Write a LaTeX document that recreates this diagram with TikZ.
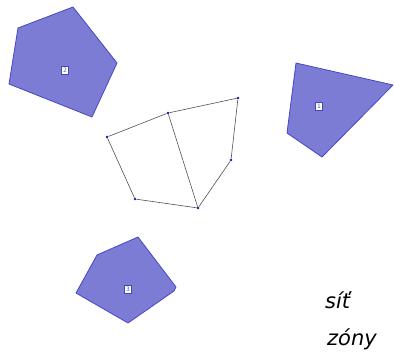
\documentclass[tikz,border=0pt]{standalone}
\usepackage{fontspec}
\newfontfamily\labfont{DejaVu Sans}
\definecolor{zonefill}{RGB}{124,124,212}
\definecolor{zoneline}{RGB}{70,70,200}
\definecolor{netline}{RGB}{80,80,80}
\definecolor{netdot}{RGB}{20,20,170}
\definecolor{numtext}{RGB}{90,90,160}
\begin{document}
\begin{tikzpicture}[x=1pt,y=-1pt,
  zone/.style={fill=zonefill,draw=zoneline,line width=0.8pt,line join=round},
  zonelabel/.style={draw=zoneline,fill=white,line width=0.7pt,inner sep=0pt,minimum width=7pt,minimum height=8pt,font=\labfont\fontsize{6}{6}\selectfont,text=numtext},
  vert/.style={circle,fill=netdot,inner sep=0pt,minimum size=2.6pt},
  edge/.style={draw=netline,line width=0.6pt},
  caption/.style={font=\labfont\itshape\fontsize{21}{24}\selectfont,anchor=base west,inner sep=0pt}]
\useasboundingbox (0,0) rectangle (394,357);
% zone 2
\draw[zone] (18,28) -- (73,7) -- (117,63) -- (92,117) -- (9,84) -- cycle;
\node[zonelabel] (z2) at (65,70) {2};
% zone 1
\draw[zone] (296,63) -- (393,85) -- (322,157) -- (287,133) -- cycle;
\node[zonelabel] (z1) at (319,106) {1};
% zone 3
\draw[zone] (97,255) -- (138,237) -- (176,287) -- (174,291) -- (128,323) -- (76,293) -- cycle;
\node[zonelabel] (z3) at (128,289) {3};
% network
\node[vert] (a) at (107,137) {};
\node[vert] (b) at (168,113) {};
\node[vert] (c) at (238,98) {};
\node[vert] (d) at (231,160) {};
\node[vert] (e) at (198,208) {};
\node[vert] (f) at (135,199) {};
\draw[edge] (a) -- (b);
\draw[edge] (b) -- (c);
\draw[edge] (c) -- (d);
\draw[edge] (d) -- (e);
\draw[edge] (e) -- (f);
\draw[edge] (f) -- (a);
\draw[edge] (b) -- (e);
% captions
\node[caption] (t1) at (325,308) {síť};
\node[caption] (t2) at (327,345) {zóny};
\end{tikzpicture}
\end{document}
